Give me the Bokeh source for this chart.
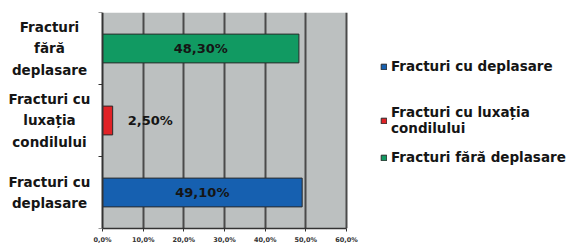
from bokeh.plotting import figure
from bokeh.models import (FixedTicker, Legend, LegendItem, Range1d, BoxAnnotation)
from bokeh.embed import file_html
from bokeh.resources import INLINE
from bokeh.core.properties import value

categories = ["Fracturi cu\ndeplasare", "Fracturi cu\nluxația\ncondilului", "Fracturi\nfără\ndeplasare"]
legend_names = ["Fracturi cu deplasare", "Fracturi cu luxația\ncondilului", "Fracturi fără deplasare"]
values = [49.1, 2.5, 48.3]
colors = ["#1660b0", "#e02226", "#119a62"]
x_ticks = [0, 10, 20, 30, 40, 50, 60]
x_tick_labels = ["0,0%", "10,0%", "20,0%", "30,0%", "40,0%", "50,0%", "60,0%"]

FONT = "DejaVu Sans"
W, H = 568, 246
AXIS_PX = 102         # canvas x of the 0% line
SCALE_PX = 244        # pixels covered by 0..60 %
XMAX = x_ticks[-1]
ppu = SCALE_PX / XMAX
x_start = -AXIS_PX / ppu
x_end = (W - AXIS_PX) / ppu

p = figure(width=W, height=H, output_backend="svg", toolbar_location=None,
           x_range=Range1d(x_start, x_end), y_range=Range1d(0, len(categories)),
           min_border_left=0, min_border_right=0, min_border_top=12, min_border_bottom=16)
p.background_fill_color = "white"
p.border_fill_color = "white"
p.outline_line_color = None

# grey plot area
p.add_layout(BoxAnnotation(left=0, right=XMAX, bottom=0, top=len(categories),
                           fill_color="#bcc0c0", fill_alpha=1, line_color=None, level="image"))

ypos = [i + 0.5 for i in range(len(categories))]
renderers = []
for i in range(len(values)):
    r = p.hbar(y=[ypos[i]], left=0, right=[values[i]], height=0.4, fill_color=colors[i],
               line_color="#2a2a2a", line_width=1)
    renderers.append(r)

# value labels
lab = [f"{v:.2f}".replace(".", ",") + "%" for v in values]
for i in range(len(values)):
    if values[i] > 10:
        p.text(x=[values[i] / 2], y=[ypos[i]], text=[lab[i]], text_align="center",
               text_baseline="middle", text_font=value(FONT), text_font_style="bold",
               text_font_size="13px", text_color="#151515")
    else:
        p.text(x=[values[i]], y=[ypos[i]], text=[lab[i]], text_align="left",
               text_baseline="middle", x_offset=15, text_font=value(FONT), text_font_style="bold",
               text_font_size="13px", text_color="#151515")

# category labels (left of the axis)
p.text(x=[-53 / ppu] * len(categories), y=ypos, text=categories, text_align="center",
       text_baseline="middle", text_font=value(FONT), text_font_style="bold",
       text_font_size="13.5px", text_color="#151515", text_line_height=1.32)

# y axis line and boundary ticks
p.yaxis.visible = False
p.ygrid.grid_line_color = None
bounds = list(range(len(categories) + 1))
p.segment(x0=[-4 / ppu] * len(bounds), y0=bounds, x1=[0] * len(bounds), y1=bounds,
          line_color="#333333", line_width=1.2)
p.segment(x0=[0], y0=[0], x1=[0], y1=[len(categories)], line_color="#333333", line_width=2)

# grid
p.xgrid.ticker = FixedTicker(ticks=x_ticks[1:])
p.xgrid.grid_line_color = "#4a4a4a"
p.xgrid.grid_line_width = 2

# x axis
xa = p.xaxis[0]
xa.bounds = (0, XMAX)
xa.ticker = FixedTicker(ticks=x_ticks)
xa.major_label_overrides = {t: l for t, l in zip(x_ticks, x_tick_labels)}
xa.major_label_text_font = FONT
xa.major_label_text_font_size = "6.5px"
xa.major_label_text_font_style = "bold"
xa.major_label_text_color = "#333333"
xa.axis_line_color = "#333333"
xa.axis_line_width = 1.5
xa.major_tick_out = 3
xa.major_tick_in = 0
xa.major_tick_line_color = "#333333"
xa.minor_tick_line_color = None
xa.major_label_standoff = 4

# legends (one per item for uneven spacing)
leg_y = [154, 92, 63]
for i in range(len(values)):
    lg = Legend(items=[LegendItem(label=legend_names[i], renderers=[renderers[i]])],
                location=(380, leg_y[i]), border_line_color=None, background_fill_alpha=0,
                label_text_font=FONT, label_text_font_style="bold", label_text_font_size="13.5px",
                label_text_color="#151515", glyph_width=7, glyph_height=7, padding=0,
                margin=0, label_standoff=4, label_text_line_height=0.88)
    p.add_layout(lg, "center")

open("out.html", "w").write(file_html(p, INLINE))
